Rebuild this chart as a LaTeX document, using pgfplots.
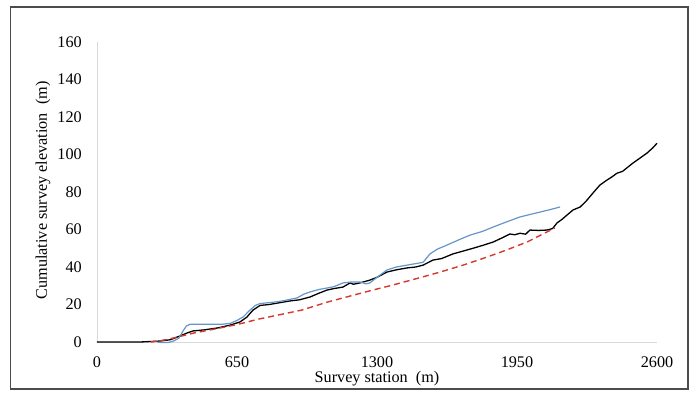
\documentclass[border=0pt]{standalone}
\usepackage{pgfplots}
\pgfplotsset{compat=1.18}
\usepackage{fontspec}
\setmainfont{Liberation Serif}
\definecolor{lineblue}{RGB}{100,150,200}
\definecolor{linered}{RGB}{215,55,45}
\definecolor{axgray}{RGB}{217,217,217}
\begin{document}
\fontsize{16.2}{19}\selectfont
\begin{tikzpicture}[x=1pt,y=1pt]
\begin{axis}[
  at={(0,0)}, anchor=south west,
  scale only axis, width=560pt, height=300pt,
  xmin=0, xmax=2600, ymin=0, ymax=160,
  axis x line=bottom, axis y line=left,
  axis line style={-, draw=axgray, line width=0.8pt},
  xtick={0,650,1300,1950,2600},
  ytick={0,20,...,160},
  major tick length=0pt,
  tick style={draw=none},
  /pgf/number format/assume math mode=true,
  /pgf/number format/set thousands separator={},
  xticklabel style={anchor=center, inner sep=0pt, yshift=-20pt},
  yticklabel style={anchor=east, inner sep=0pt, xshift=-15pt},
  xlabel={Survey station\ \ (m)},
  ylabel={Cumulative survey elevation\ \ (m)},
  xlabel style={at={(axis description cs:0.5,-0.1233)}, anchor=center, inner sep=0pt},
  ylabel style={at={(axis description cs:-0.0964,0.505)}, anchor=center, inner sep=0pt},
  clip=false,
]
\addplot[black, line width=1.3pt, line join=round] coordinates {
(0,0) (200,0) (292,0.5) (340,1.2) (385,3.2) (418,4.8) (446,5.9) (500,6.5) (560,7.5)
(618,9) (664,10.7) (696,13.3) (724,17) (757,19.5) (800,20) (850,21) (896,21.9)
(940,22.5) (989,24) (1030,26) (1068,27.7) (1100,28.5) (1142,29.3) (1160,30.5)
(1175,31.5) (1190,30.8) (1220,31.5) (1267,33) (1300,34.5) (1346,37.3) (1390,38.5)
(1439,39.5) (1480,40) (1514,41) (1560,43.7) (1600,44.5) (1653,47) (1700,48.5)
(1746,50) (1790,51.5) (1839,53.3) (1880,55.5) (1917,57.6) (1940,57.2) (1964,58)
(1990,57.5) (2010,59.7) (2050,59.5) (2089,59.7) (2115,60.5) (2136,63.5) (2160,65.5)
(2182,67.7) (2210,70.4) (2243,72) (2270,75) (2303,79.5) (2335,83.7) (2368,86.4)
(2390,88) (2414,90) (2440,91) (2489,95.5) (2520,98) (2554,100.8) (2580,103.5) (2600,106)
};
\addplot[lineblue, line width=1.2pt, line join=round] coordinates {
(280,0) (300,-0.3) (330,-0.3) (355,0.5) (380,2) (400,6) (415,8.5) (432,9.5) (500,9.5)
(585,9.5) (620,10) (650,11.5) (680,13.5) (710,17) (735,19.5) (757,20.5) (800,21)
(840,21.5) (882,22.4) (929,23.5) (960,25.5) (989,26.7) (1030,28) (1068,28.8)
(1100,29.5) (1142,31.5) (1180,32) (1221,32) (1250,31) (1267,31.5) (1300,34.5)
(1346,38.4) (1390,40) (1439,41) (1480,41.8) (1514,42.5) (1546,47) (1580,49.5)
(1625,51.7) (1680,54.5) (1732,57) (1790,59) (1839,61.3) (1900,64) (1964,66.7)
(2010,68) (2057,69.3) (2100,70.5) (2150,72)
};
\addplot[linered, line width=1.4pt, dash pattern=on 6pt off 4pt] coordinates {
(250,0) (300,0.8) (350,2) (450,4.8) (550,7) (650,9.3) (750,12.2) (850,14.6) (950,17)
(1070,21.3) (1175,24.5) (1270,27.4) (1374,30.4) (1490,34) (1593,37.3) (1700,41)
(1811,45.3) (1900,49) (2000,53.5) (2060,57) (2126,60.8)
};
\end{axis}
\draw[line width=1.5pt, color=black!70] (-86.5,-47) rectangle (591,335);
\pgfresetboundingbox
\path[use as bounding box] (-97,-52) rectangle (597,342);
\end{tikzpicture}
\end{document}
